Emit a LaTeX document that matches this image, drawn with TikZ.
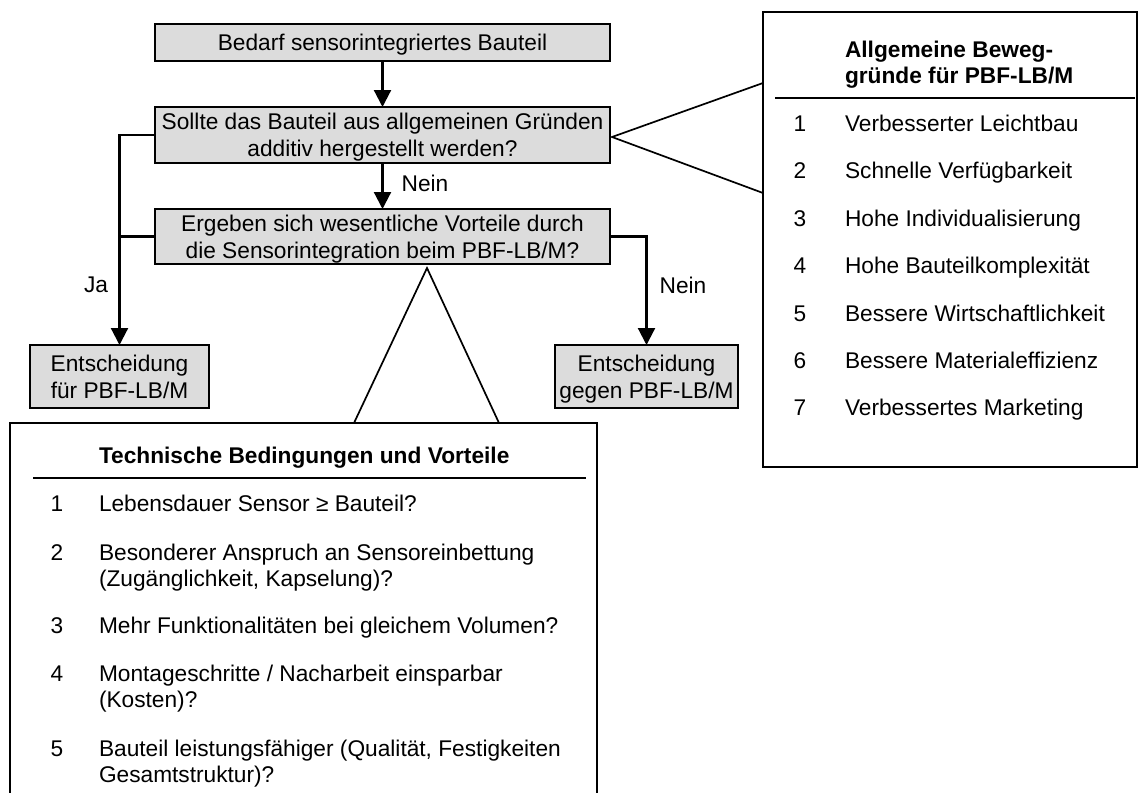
\documentclass[tikz,border=0pt]{standalone}
\usepackage{fontspec}
\setmainfont{Liberation Sans}
\usetikzlibrary{arrows.meta}
\begin{document}
\begin{tikzpicture}[x=1pt,y=-1pt,
  every node/.style={inner sep=0pt,outer sep=0pt,font=\fontsize{22.7}{27}\selectfont},
  flowbox/.style={draw,line width=1.8pt,fill=boxgray,align=center,text depth=0pt,minimum width=#1},
  flowbox/.default=455pt,
  arr/.style={line width=2.2pt,-{Triangle[width=17pt,length=17pt]}},
  plain/.style={line width=2.2pt},
  wedge/.style={line width=1.7pt,line join=miter},
  panel/.style={draw,line width=1.6pt},
  rule/.style={line width=2.6pt},
  num/.style={anchor=base},
  % multi-line nodes sit on the baseline of their last line
  item/.style={anchor=base west,align=left,font=\fontsize{22.7}{26}\selectfont},
  head/.style={anchor=base west,align=left,font=\fontsize{22.7}{25}\selectfont\bfseries}]
\definecolor{boxgray}{RGB}{220,220,220}
\useasboundingbox (0,0) rectangle (1139,792);

% flow chart boxes
\node[flowbox,minimum height=37pt] (b1) at (382.5,42.5) {Bedarf sensorintegriertes Bauteil};
\node[flowbox,minimum height=56pt] (b2) at (382.5,135) {Sollte das Bauteil aus allgemeinen Gründen\\additiv hergestellt werden?};
\node[flowbox,minimum height=55pt] (b3) at (382.5,236.5) {Ergeben sich wesentliche Vorteile durch\\die Sensorintegration beim PBF-LB/M?};
\node[flowbox=179pt,minimum height=63pt] (lb) at (119.5,376.5) {Entscheidung\\für PBF-LB/M};
\node[flowbox=183pt,minimum height=63pt] (rb) at (646.5,376.5) {Entscheidung\\gegen PBF-LB/M};

% connectors
\draw[arr] (b1) -- (b2);
\draw[arr] (b2) -- (b3);
\draw[arr] (b2.west) -| (lb.north);
\draw[plain] (b3.west) -- (b3.west -| lb.north);
\draw[arr] (b3.east) -| (rb.north);

\node (nein1) at (425,183) {Nein};
\node (ja) at (96,285) {Ja};
\node (nein2) at (683,285) {Nein};

% right panel: general motives
\node[panel,minimum width=374pt,minimum height=455pt] (pr) at (950,239.5) {};
\coordinate (tr1) at (763,83);
\coordinate (tr2) at (763,193);
\coordinate (tv) at (612,137);
\draw[wedge] (tr1) -- (tv) -- (tr2);

\node[head] (prh) at (845,83) {Allgemeine Beweg-\\gründe für PBF-LB/M};
\coordinate (pra) at (775,98);
\coordinate (prb) at (1135,98);
\draw[rule] (pra) -- (prb);

\foreach \n/\y/\t in {1/131/Verbesserter Leichtbau,
                      2/178/Schnelle Verfügbarkeit,
                      3/226/Hohe Individualisierung,
                      4/273/Hohe Bauteilkomplexität,
                      5/321/Bessere Wirtschaftlichkeit,
                      6/368/Bessere Materialeffizienz,
                      7/415/Verbessertes Marketing}{
  \node[num] (rn\n) at (800,\y) {\n};
  \node[item] (rt\n) at (845,\y) {\t};
}

% bottom panel: technical conditions
\coordinate (bl0) at (10,795);
\coordinate (bl1) at (10,423);
\coordinate (br1) at (597,423);
\coordinate (br0) at (597,795);
\draw[line width=1.6pt] (bl0) -- (bl1) -- (br1) -- (br0);

\coordinate (sv) at (427,268);
\coordinate (s1) at (354,423);
\coordinate (s2) at (499,423);
\draw[wedge] (s1) -- (sv) -- (s2);

\node[head] (bph) at (99,463) {Technische Bedingungen und Vorteile};
\coordinate (bpa) at (33,478);
\coordinate (bpb) at (586,478);
\draw[rule] (bpa) -- (bpb);

\node[num] (bn1) at (57,511) {1};
\node[item] (bt1) at (99,511) {Lebensdauer Sensor ≥ Bauteil?};
\node[num] (bn2) at (57,560) {2};
\node[item] (bt2) at (99,586) {Besonderer Anspruch an Sensoreinbettung\\(Zugänglichkeit, Kapselung)?};
\node[num] (bn3) at (57,633) {3};
\node[item] (bt3) at (99,633) {Mehr Funktionalitäten bei gleichem Volumen?};
\node[num] (bn4) at (57,681) {4};
\node[item] (bt4) at (99,707) {Montageschritte / Nacharbeit einsparbar\\(Kosten)?};
\node[num] (bn5) at (57,756) {5};
\node[item] (bt5) at (99,782) {Bauteil leistungsfähiger (Qualität, Festigkeiten\\Gesamtstruktur)?};
\end{tikzpicture}
\end{document}
